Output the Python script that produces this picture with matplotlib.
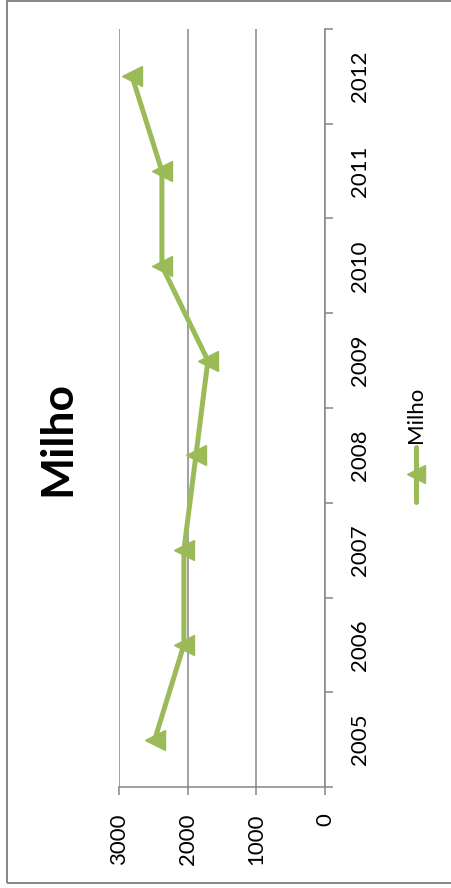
import matplotlib
matplotlib.use("Agg")
import matplotlib.pyplot as plt
from matplotlib.lines import Line2D
from matplotlib.patches import Rectangle

anos = ["2005", "2006", "2007", "2008", "2009", "2010", "2011", "2012"]
milho = [2480, 2055, 2055, 1880, 1705, 2375, 2375, 2810]
valor_ticks = [0, 1000, 2000, 3000]

verde = "#9BBB59"
cinza = "#868686"
plt.rcParams["font.family"] = ["Lato", "DejaVu Sans"]

W, H = 452, 888
fig = plt.figure(figsize=(W / 100, H / 100), dpi=100)

# chart is laid out sideways: values run right to left, years bottom to top
ax = fig.add_axes([119 / W, 1 - 787 / H, (325 - 119) / W, (787 - 29) / H])
pos = [i + 0.5 for i in range(len(anos))]
ax.plot(milho, pos, color=verde, lw=3.6, marker="<", markersize=14.4,
        solid_joinstyle="miter", zorder=3)

ax.set_xlim(3000, 0)
ax.set_ylim(0, len(anos))
ax.set_xticks(valor_ticks)
ax.set_xticklabels([str(v) for v in valor_ticks], rotation=90, fontsize=16)
ax.grid(axis="x", color=cinza, lw=1.1)
ax.tick_params(axis="x", direction="out", length=5.8, width=1.1, color=cinza, pad=13)

ax.yaxis.tick_right()
ax.set_yticks(range(len(anos) + 1))
ax.set_yticklabels([])
ax.set_yticks(pos, minor=True)
ax.set_yticklabels(anos, minor=True, rotation=90, fontsize=16, va="center", ha="left")
ax.tick_params(axis="y", which="major", direction="out", length=5.8, width=1.1, color=cinza)
ax.tick_params(axis="y", which="minor", length=0, pad=18)

for s in ["left", "top"]:
    ax.spines[s].set_visible(False)
for s in ["right", "bottom"]:
    ax.spines[s].set_color(cinza)
    ax.spines[s].set_linewidth(1.1)

fig.text(57 / W, 1 - 438 / H, "Milho", rotation=90, fontsize=32, fontweight="bold",
         ha="center", va="center")

# legend drawn by hand so it can be turned with the rest
fig.add_artist(Line2D([416 / W, 416 / W], [1 - 502 / H, 1 - 447 / H], color=verde, lw=3.6,
                      solid_capstyle="round"))
fig.add_artist(Line2D([416 / W], [1 - 474 / H], color=verde, marker="<", markersize=13))
fig.text(416 / W, 1 - 443 / H, "Milho", rotation=90, fontsize=16, ha="center", va="bottom")

fig.add_artist(Rectangle((7 / W, 1 - 883 / H), 1.2, 882 / H, transform=fig.transFigure,
                         fill=False, edgecolor=cinza, lw=1.4))

fig.savefig("out.png", dpi=100)
